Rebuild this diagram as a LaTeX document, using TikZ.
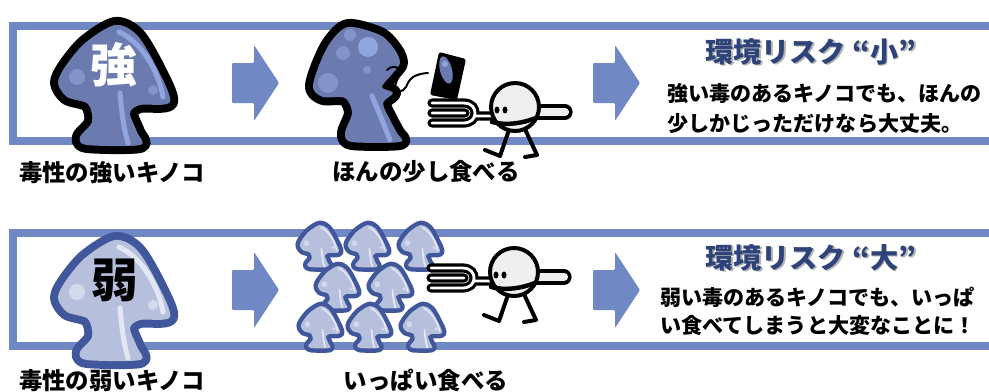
\documentclass[tikz,border=0pt]{standalone}
\usepackage{fontspec}
\newfontfamily\jpfont{Noto Sans CJK JP}
\usetikzlibrary{positioning}

\definecolor{panelblue}{HTML}{7088C4}
\definecolor{titleblue}{HTML}{2E4379}
\definecolor{titleshade}{HTML}{B4B4B4}
\definecolor{capblue}{HTML}{6B7BAF}
\definecolor{caplight}{HTML}{90A4DE}
\definecolor{capspot}{HTML}{8494C8}
\definecolor{paleedge}{HTML}{41579B}
\definecolor{palebody}{HTML}{B6BFDC}
\definecolor{palelight}{HTML}{E3E7F4}
\definecolor{palespot}{HTML}{D4DAEE}
\definecolor{headgray}{HTML}{EFEFEF}

% grey copy of a heading set just behind it
\newcommand{\shadowed}[1]{\rlap{\kern1.7pt\raisebox{-1.7pt}{\color{titleshade}#1}}#1}

% mushroom body around its own centre, y grows downwards
\newcommand{\shroomoutline}{plot[smooth cycle] coordinates {(2,-60) (24,-50) (44,-17) (57,17) (27,20) (17,28) (24,47) (27,60) (-26,60) (-33,52) (-21,37) (-25,19) (-46,12) (-55,-2) (-48,-18) (-28,-42)}}
% the one with a bite out of its cap
\newcommand{\bittenoutline}{plot[smooth cycle, tension=0.5] coordinates {(348,27) (380,35) (395,50) (400,63) (393,73) (382,87) (393,93) (383,103) (390,120) (397,133) (400,142) (352,142) (345,133) (352,113) (345,98) (323,97) (313,88) (318,68) (330,43)}}
% three tines, the bend and the neck
\newcommand{\forkpath}{(-83,-4) -- (-50,-4) (-83,6) -- (-50,6) (-83,16) -- (-50,16) (-52,-4) .. controls (-42,-4) and (-40,2) .. (-40,6) .. controls (-40,12) and (-44,16) .. (-52,16) (-41,9) -- (-22,9)}

\tikzset{
  panel/.style={draw=panelblue, line width=6pt},
  caption/.style={font=\jpfont\bfseries\fontsize{20}{24}\selectfont, inner sep=0pt, anchor=base},
  riskhead/.style={font=\jpfont\bfseries\fontsize{24}{28}\selectfont, inner sep=0pt, anchor=base west, text=titleblue},
  riskline/.style={font=\jpfont\bfseries\fontsize{18}{22}\selectfont, inner sep=0pt, anchor=base west},
  bigkanji/.style={font=\jpfont\bfseries\fontsize{40}{40}\selectfont, inner sep=0pt},
  pics/shroom/.style n args={6}{code={
    \draw[#2, fill=#2, line width=#1, line join=round] \shroomoutline;
    \fill[#3] \shroomoutline;
    \begin{scope}
      \clip \shroomoutline;
      \draw[#4, line width=#6, line cap=round] (6,-53) .. controls (30,-42) and (46,-12) .. (50,12);
      \draw[#4, line width=#6, line cap=round] (7,8) .. controls (9,30) and (11,45) .. (15,58);
      \fill[#5] (-36,-8) circle (8) (40,5) circle (5);
    \end{scope}
  }},
  pics/goarrow/.style={code={
    \fill[panelblue, rounded corners=1pt] (0,-20) -- (22,-20) -- (22,-38) -- (47,0) -- (22,38) -- (22,20) -- (0,20) -- cycle;
  }},
  pics/eater/.style={code={
    % legs first, the head sits on top of them
    \draw[line width=3.4pt, line cap=round, line join=round] (-5,20) -- (-15,49) -- (-30,43) (9,20) -- (22,48) -- (10,50);
    % fork held out in front
    \draw[line width=7.8pt, line cap=round] \forkpath;
    \draw[white, line width=2.4pt, line cap=round] \forkpath;
    % handle behind the head
    \draw[line width=13pt, line cap=round] (12,5) -- (50,5);
    \draw[headgray, line width=7pt, line cap=round] (12,5) -- (50,5);
    \draw[line width=3.4pt, fill=headgray] (0,0) circle (24);
    \fill (-18,3) ellipse (2.5 and 3.5) (-10,3) ellipse (2.5 and 3.5);
    \draw[line width=3.8pt, line cap=round] (-23,15) .. controls (-8,19) and (8,16) .. (21,11);
  }},
}

\begin{document}
\begin{tikzpicture}[x=0.03cm, y=-0.03cm]
\useasboundingbox (0,0) rectangle (989,391);

% frames, open to the right
\draw[panel] (995,26) -- (13,26) -- (13,141) -- (995,141);
\draw[panel] (995,233) -- (13,233) -- (13,346) -- (995,346);

\pic at (232,83) {goarrow};
\pic at (593,83) {goarrow};
\pic at (232,290) {goarrow};
\pic at (593,290) {goarrow};

% strong one
\pic at (113,85) {shroom={13.6pt}{black}{capblue}{caplight}{capspot}{4.3pt}};
\node[bigkanji, text=white] (strongmark) at (114,65) {強};

% bitten one
\draw[black, fill=black, line width=13.6pt, line join=round] \bittenoutline;
\fill[capblue] \bittenoutline;
\begin{scope}
  \clip \bittenoutline;
  \fill[capspot] (350,35) circle (6) (343,53) circle (7) (367,70) circle (4) (328,83) circle (10);
  \fill[caplight] (368,47) circle (10);
  \draw[caplight, line width=4.3pt, line cap=round] (372,96) .. controls (378,110) and (384,125) .. (390,140);
\end{scope}
\draw[line width=1.7pt, line cap=round] (387,70) .. controls (391,66) and (396,66) .. (399,69)
  .. controls (402,74) and (396,80) .. (395,86) .. controls (394,93) and (403,93) .. (406,87)
  .. controls (409,80) and (412,74) .. (428,73);

\pic at (515,107) {eater};
% the bite on the fork
\fill[black, rounded corners=2pt] (439,52) -- (466,59) -- (457,100) -- (430,95) -- cycle;
\fill[capblue, rotate around={15:(446,70)}] (446,70) ellipse (6 and 14);
\fill[caplight] (445,64) circle (3);

% weak one
\pic at (113,300) {shroom={13.6pt}{paleedge}{palebody}{palelight}{palespot}{4.3pt}};
\node[bigkanji] (weakmark) at (115,280) {弱};

% a whole heap of them
\foreach \cx/\cy in {319/246, 367/246, 420/246, 337/287, 390/287, 320/327, 369/327, 422/327}
  \pic[scale=0.35] at (\cx,\cy) {shroom={7.6pt}{paleedge}{palebody}{palelight}{palespot}{1.5pt}};

\pic at (514,272) {eater};

% risk notes
\node[riskhead] (smallrisk) at (705,62) {\shadowed{環境リスク “小”}};
\node[riskline] (smallnoteA) at (667,101) {強い毒のあるキノコでも、ほんの};
\node[riskline] (smallnoteB) at (667,131) {少しかじっただけなら大丈夫。};

\node[riskhead] (bigrisk) at (705,268) {\shadowed{環境リスク “大”}};
\node[riskline] (bignoteA) at (660,305) {弱い毒のあるキノコでも、いっぱ};
\node[riskline] (bignoteB) at (660,333) {い食べてしまうと大変なことに！};

% captions under the pictures
\node[caption] (strongcap) at (112,181) {毒性の強いキノコ};
\node[caption] (littlecap) at (426,180) {ほんの少し食べる};
\node[caption] (weakcap) at (112,389) {毒性の弱いキノコ};
\node[caption] (lotscap) at (426,389) {いっぱい食べる};
\end{tikzpicture}
\end{document}
